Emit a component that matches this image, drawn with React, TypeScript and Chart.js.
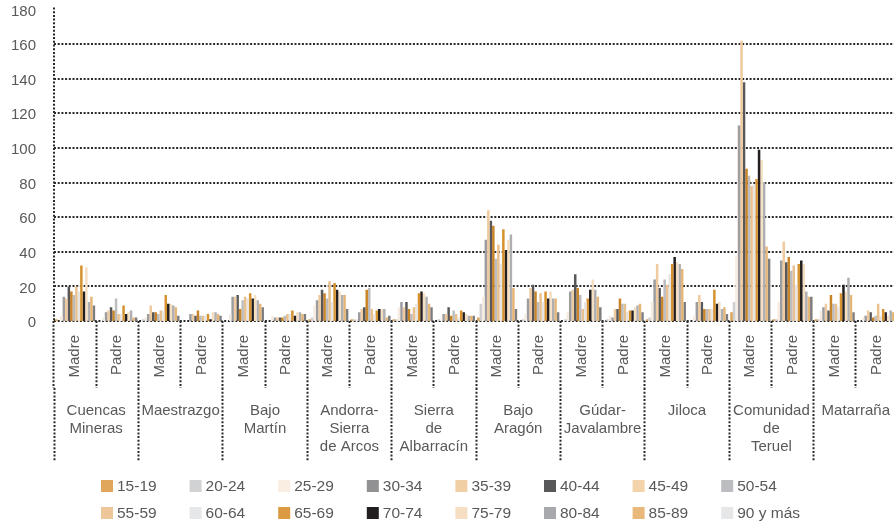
import { useEffect, useRef } from 'react';
import { Chart, registerables } from 'chart.js';

Chart.register(...registerables);

// ---- Data ----
const comarcas: string[][] = [
  ['Cuencas', 'Mineras'],
  ['Maestrazgo'],
  ['Bajo', 'Martín'],
  ['Andorra-', 'Sierra', 'de Arcos'],
  ['Sierra', 'de', 'Albarracín'],
  ['Bajo', 'Aragón'],
  ['Gúdar-', 'Javalambre'],
  ['Jiloca'],
  ['Comunidad', 'de', 'Teruel'],
  ['Matarraña'],
];
const progenitores = ['Madre', 'Padre'];
const ageGroups = [
  '15-19', '20-24', '25-29', '30-34', '35-39', '40-44', '45-49', '50-54',
  '55-59', '60-64', '65-69', '70-74', '75-79', '80-84', '85-89', '90 y más',
];

// values per comarca / progenitor, in age-group order
const cuencasMadre = [1, 0, 3, 14, 13, 20, 17, 15, 20, 17, 32, 17, 31, 11, 14, 9];
const cuencasPadre = [0, 0, 2, 5, 6, 8, 6, 13, 4, 4, 9, 4, 5, 6, 2, 2];
const maestrazgoMadre = [0, 1, 2, 4, 9, 5, 5, 4, 6, 6, 15, 10, 10, 9, 8, 3];
const maestrazgoPadre = [0, 0, 0, 4, 4, 3, 6, 3, 3, 3, 4, 1, 5, 5, 4, 3];
const bajoMartinMadre = [0, 0, 4, 14, 14, 15, 7, 12, 14, 13, 16, 13, 15, 12, 10, 8];
const bajoMartinPadre = [0, 0, 3, 2, 2, 2, 2, 3, 4, 4, 6, 3, 5, 5, 4, 4];
const andorraMadre = [1, 2, 9, 12, 15, 18, 16, 13, 23, 11, 22, 18, 17, 15, 15, 7];
const andorraPadre = [1, 1, 1, 5, 7, 8, 18, 19, 7, 4, 6, 7, 7, 7, 2, 3];
const albarracinMadre = [1, 1, 8, 11, 8, 11, 7, 4, 8, 10, 16, 17, 16, 14, 10, 8];
const albarracinPadre = [0, 1, 1, 4, 4, 8, 3, 6, 4, 2, 6, 5, 4, 3, 3, 3];
const bajoAragonMadre = [2, 10, 14, 47, 64, 58, 55, 36, 44, 33, 53, 41, 47, 50, 19, 7];
const bajoAragonPadre = [0, 1, 4, 13, 19, 21, 17, 11, 16, 11, 17, 13, 17, 13, 13, 5];
const gudarMadre = [0, 1, 5, 17, 18, 27, 19, 15, 7, 11, 13, 18, 24, 18, 14, 8];
const gudarPadre = [0, 1, 3, 2, 7, 7, 13, 10, 10, 5, 6, 6, 8, 9, 10, 5];
const jilocaMadre = [1, 2, 11, 24, 33, 19, 14, 24, 21, 27, 33, 37, 34, 33, 30, 11];
const jilocaPadre = [0, 0, 3, 11, 15, 11, 7, 7, 7, 7, 18, 10, 11, 7, 8, 4];
const teruelMadre = [5, 11, 38, 113, 162, 138, 88, 84, 78, 79, 82, 99, 93, 80, 43, 36];
const teruelPadre = [1, 1, 11, 35, 46, 34, 37, 29, 32, 21, 33, 35, 33, 17, 14, 14];
const matarranaMadre = [1, 1, 6, 8, 10, 6, 15, 10, 10, 8, 16, 21, 17, 25, 15, 5];
const matarranaPadre = [0, 0, 2, 3, 6, 5, 2, 3, 10, 3, 7, 5, 3, 6, 5, 4];

const rows = [
  cuencasMadre, cuencasPadre, maestrazgoMadre, maestrazgoPadre,
  bajoMartinMadre, bajoMartinPadre, andorraMadre, andorraPadre,
  albarracinMadre, albarracinPadre, bajoAragonMadre, bajoAragonPadre,
  gudarMadre, gudarPadre, jilocaMadre, jilocaPadre,
  teruelMadre, teruelPadre, matarranaMadre, matarranaPadre,
];

// ---- Styles ----
const barColors = [
  '#DAA35A', '#CFCFD1', '#F6EBE0', '#9D9DA0', '#EFCB9F', '#58585A', '#C98527', '#BDBDC0',
  '#E9C18F', '#E8E6E4', '#D6922F', '#231F20', '#F5DFC3', '#AFAFB2', '#E5B676', '#7D7D7F',
];
const legendColors = [
  '#E0A65C', '#D1D2D4', '#FAEDE2', '#919194', '#F0CFA5', '#58585A', '#F3D3AA', '#BCBDC0',
  '#EDC79A', '#E6E7E8', '#DB9A42', '#231F20', '#F6DEC2', '#A7A9AC', '#E8B97B', '#E6E7E8',
];
const FONT = '"Liberation Sans", Arial, Helvetica, sans-serif';
const TEXT = '#58595B';
const LINE = '#2a2a2a';
const DOTS = [2, 1.7];

// dotted horizontal grid lines and dotted y-axis line
const dottedGridPlugin = {
  id: 'dottedGrid',
  beforeDatasetsDraw(chart: any) {
    const { ctx, chartArea } = chart;
    const y = chart.scales.y;
    ctx.save();
    ctx.strokeStyle = LINE;
    ctx.lineWidth = 2;
    ctx.setLineDash(DOTS);
    y.ticks.forEach((t: any) => {
      if (t.value >= y.max) return;
      const py = Math.round(y.getPixelForValue(t.value));
      ctx.beginPath();
      ctx.moveTo(chartArea.left, py);
      ctx.lineTo(chartArea.right, py);
      ctx.stroke();
    });
    const px = Math.round(chartArea.left);
    ctx.beginPath();
    ctx.moveTo(px, chartArea.top - 2);
    ctx.lineTo(px, chartArea.bottom);
    ctx.stroke();
    ctx.restore();
  },
};

const legendPlugin = {
  id: 'gridLegend',
  afterDraw(chart: any) {
    const ctx = chart.ctx as CanvasRenderingContext2D;
    const left = chart.chartArea.left + 47;
    const top = chart.height - 42;
    ctx.save();
    ctx.font = `15.5px ${FONT}`;
    ctx.textBaseline = 'middle';
    ctx.textAlign = 'left';
    ageGroups.forEach((label, i) => {
      const col = i % 8;
      const row = Math.floor(i / 8);
      const x = left + col * 88.6;
      const y = top + row * 27;
      ctx.fillStyle = legendColors[i];
      ctx.fillRect(x, y - 6, 12, 12);
      ctx.fillStyle = TEXT;
      ctx.fillText(label, x + 16, y + 1);
    });
    ctx.restore();
  },
};

export default function App() {
  const ref = useRef<HTMLCanvasElement | null>(null);

  useEffect(() => {
    if (!ref.current) return;
    const xLabels: string[] = [];
    comarcas.forEach(() => progenitores.forEach((p) => xLabels.push(p)));
    const comarcaLabels = comarcas.map((c) => c);

    const datasets = ageGroups.map((age, i) => ({
      label: age,
      data: rows.map((r) => r[i]),
      backgroundColor: barColors[i],
      borderWidth: 0,
      categoryPercentage: 0.95,
      barPercentage: 1,
      xAxisID: 'x',
    }));

    const chart = new Chart(ref.current, {
      type: 'bar',
      data: { labels: xLabels, datasets },
      options: {
        animation: false,
        responsive: false,
        maintainAspectRatio: false,
        layout: { padding: { top: 9.5, bottom: 66, left: 0, right: 0 } },
        plugins: {
          legend: { display: false },
          tooltip: { enabled: false },
        },
        scales: {
          x: {
            type: 'category',
            position: 'bottom',
            weight: 0,
            offset: true,
            grid: {
              offset: true,
              drawOnChartArea: false,
              drawTicks: true,
              tickLength: 67,
              tickWidth: 2,
              tickColor: LINE,
              tickBorderDash: DOTS,
            },
            border: { display: false },
            ticks: {
              autoSkip: false,
              minRotation: 90,
              maxRotation: 90,
              padding: -53,
              color: TEXT,
              font: { family: FONT, size: 15 },
            },
            afterFit: (s: any) => {
              s.height = 67;
              s.paddingLeft = 0;
              s.paddingRight = 0;
            },
          },
          x2: {
            type: 'category',
            labels: comarcaLabels as any,
            position: 'bottom',
            weight: 1,
            offset: true,
            grid: {
              offset: true,
              drawOnChartArea: false,
              drawTicks: true,
              tickLength: 74,
              tickWidth: 2,
              tickColor: LINE,
              tickBorderDash: DOTS,
            },
            border: { display: false },
            ticks: {
              autoSkip: false,
              minRotation: 0,
              maxRotation: 0,
              padding: -60,
              color: TEXT,
              font: { family: FONT, size: 15, lineHeight: 1.2 },
            },
            afterFit: (s: any) => {
              s.height = 74;
              s.paddingLeft = 0;
              s.paddingRight = 0;
            },
          },
          y: {
            min: 0,
            max: 180,
            ticks: {
              stepSize: 20,
              padding: 18,
              labelOffset: 2,
              color: TEXT,
              font: { family: FONT, size: 15 },
            },
            grid: { display: false, drawTicks: false },
            border: { display: false },
            afterFit: (s: any) => {
              s.width = 54;
              s.paddingTop = 0;
              s.paddingBottom = 0;
            },
          },
        },
      } as any,
      plugins: [dottedGridPlugin, legendPlugin],
    });
    return () => chart.destroy();
  }, []);

  return (
    <div
      style={{
        position: 'fixed',
        left: 0,
        top: 0,
        width: 894,
        height: 528,
        overflow: 'hidden',
        background: '#ffffff',
      }}
    >
      <canvas ref={ref} width={898} height={528} style={{ display: 'block' }} />
    </div>
  );
}
